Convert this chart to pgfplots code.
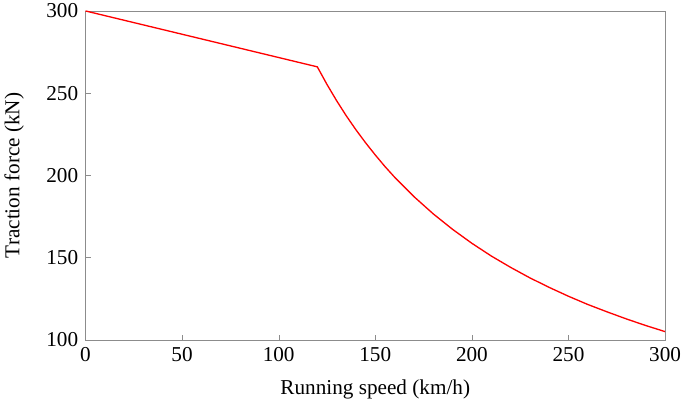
\documentclass[border=0pt]{standalone}
\usepackage{pgfplots}
\pgfplotsset{compat=1.18}
\usepackage{fontspec}
\setmainfont{Liberation Serif}
\begin{document}
\fontsize{16}{19}\selectfont
\begin{tikzpicture}
\useasboundingbox (-64.5pt,-47.25pt) rectangle (452.5pt,256.5pt);
\begin{axis}[
  at={(0,0)}, anchor=south west,
  scale only axis,
  width=437.5pt, height=248.25pt,
  xmin=0, xmax=300, ymin=100, ymax=300,
  xtick={0,50,100,150,200,250,300},
  ytick={100,150,200,250,300},
  tick pos=left, tick align=inside,
  major tick length=4pt,
  axis line style={draw=gray!90},
  tick style={draw=gray!90},
  /pgf/number format/assume math mode=true,
  ticklabel style={font=\fontsize{16}{19}\selectfont},
  label style={font=\fontsize{16}{19}\selectfont},
  xlabel={Running speed (km/h)},
  ylabel={Traction force (kN)},
  xlabel style={yshift=-3pt},
  ylabel style={yshift=6pt},
]
\addplot[red, line width=1pt] coordinates {
(0,300) (120,266)
(120,266.0) (125,255.3) (130,245.4) (135,236.2) (140,227.7) (145,219.8)
(150,212.4) (155,205.4) (160,198.9) (170,187.1) (180,176.6) (190,167.2)
(200,158.7) (210,151.0) (220,144.1) (230,137.7) (240,131.9) (250,126.5)
(260,121.5) (270,117.0) (280,112.7) (290,108.7) (300,105.0)
};
\end{axis}
\end{tikzpicture}
\end{document}
